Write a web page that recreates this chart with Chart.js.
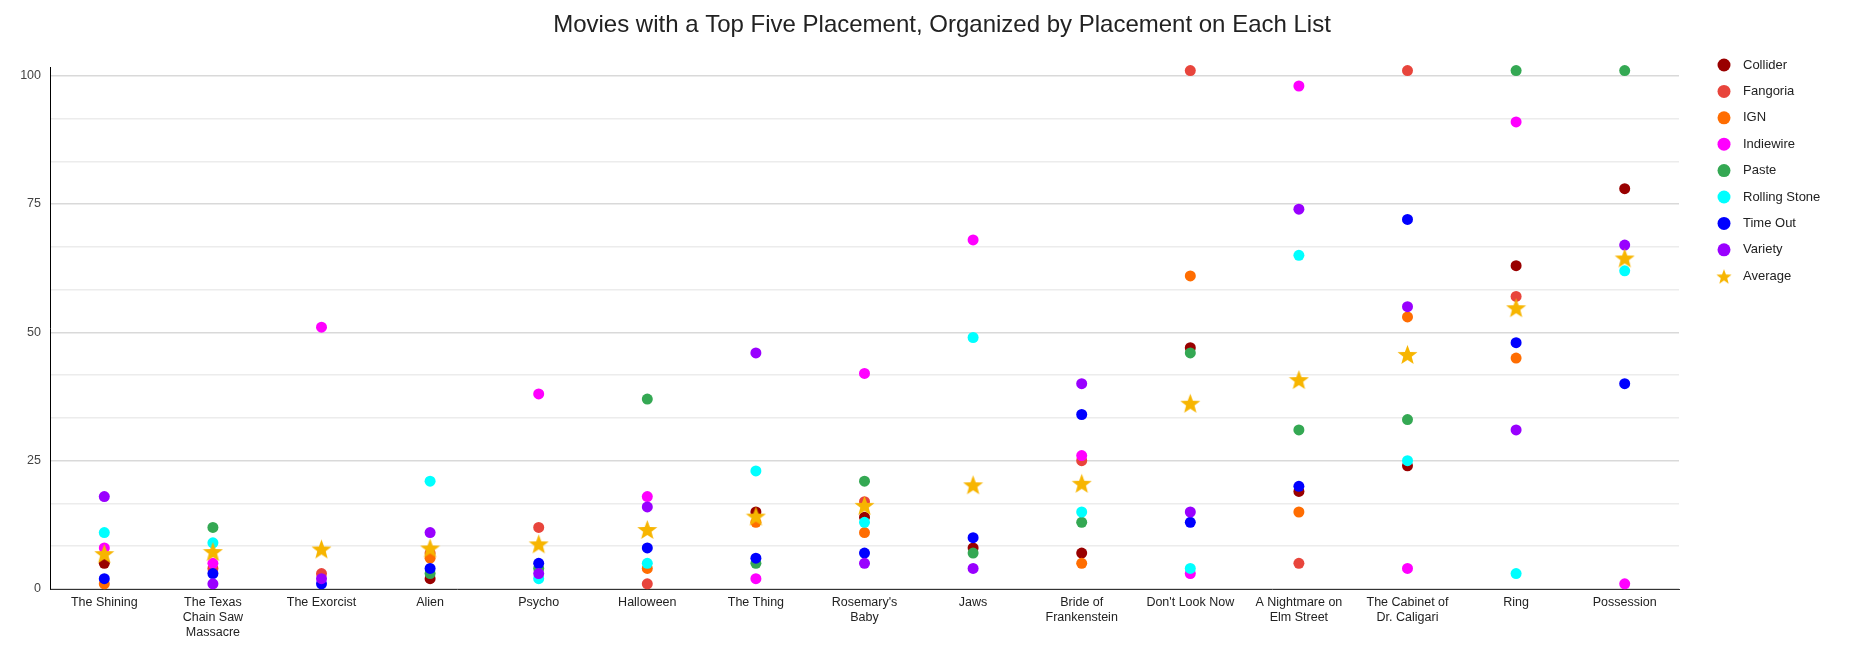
<!DOCTYPE html>
<html>
<head>
<meta charset="utf-8">
<script src="https://cdn.jsdelivr.net/npm/chart.js@4"></script>
<style>
    body { margin: 0; background: #fff; }
    #wrap { width: 1854px; height: 653px; position: relative; }
</style>
</head>
<body>
<div id="wrap"><canvas id="chart"></canvas></div>
<script>
/* =========================
   DATA
========================= */

const chartTitle = "Movies with a Top Five Placement, Organized by Placement on Each List";

const movies = [
    "The Shining", ["The Texas", "Chain Saw", "Massacre"], "The Exorcist", "Alien", "Psycho",
    "Halloween", "The Thing", ["Rosemary's", "Baby"], "Jaws", ["Bride of", "Frankenstein"],
    "Don't Look Now", ["A Nightmare on", "Elm Street"], ["The Cabinet of", "Dr. Caligari"], "Ring", "Possession"
];

const collider     = [5, null, null, 2, null, null, 15, 14, 8, 7, 47, 19, 24, 63, 78];
const fangoria     = [null, 4, 3, 7, 12, 1, null, 17, null, 25, 101, 5, 101, 57, null];
const ign          = [1, null, null, 6, null, 4, 13, 11, null, 5, 61, 15, 53, 45, null];
const indiewire    = [8, 5, 51, null, 38, 18, 2, 42, 68, 26, 3, 98, 4, 91, 1];
const paste        = [null, 12, null, 3, 4, 37, 5, 21, 7, 13, 46, 31, 33, 101, 101];
const rollingStone = [11, 9, null, 21, 2, 5, 23, 13, 49, 15, 4, 65, 25, 3, 62];
const timeOut      = [2, 3, 1, 4, 5, 8, 6, 7, 10, 34, 13, 20, 72, 48, 40];
const variety      = [18, 1, 2, 11, 3, 16, 46, 5, 4, 40, 15, 74, 55, 31, 67];
const average      = [6.9, 7.3, 7.8, 8, 8.8, 11.6, 14.2, 16.3, 20.3, 20.6, 36.2, 40.8, 45.7, 54.8, 64.5];

const yTickLabels = [0, 25, 50, 75, 100];

/* =========================
   STYLE
========================= */

const FONT = "Arial, 'Liberation Sans', sans-serif";
const STAR_COLOR = "#f7b500";

function makeStar(size, color) {
    let c = document.createElement("canvas");
    c.width = size; c.height = size;
    let ctx = c.getContext("2d");
    let cx = size / 2, cy = size / 2 + 1, R = size / 2, r = R * 0.42;
    ctx.beginPath();
    for (let i = 0; i < 10; i++) {
        let rad = i % 2 === 0 ? R : r;
        let a = -Math.PI / 2 + i * Math.PI / 5;
        ctx.lineTo(cx + rad * Math.cos(a), cy + rad * Math.sin(a));
    }
    ctx.closePath();
    ctx.fillStyle = color;
    ctx.fill();
    return c;
}

const starImg = makeStar(21, STAR_COLOR);
const legendStar = makeStar(16, STAR_COLOR);

const series = [
    { label: "Collider",      data: collider,     color: "#990000" },
    { label: "Fangoria",      data: fangoria,     color: "#e8453c" },
    { label: "IGN",           data: ign,          color: "#ff6d01" },
    { label: "Indiewire",     data: indiewire,    color: "#ff00ff" },
    { label: "Paste",         data: paste,        color: "#34a853" },
    { label: "Rolling Stone", data: rollingStone, color: "#00ffff" },
    { label: "Time Out",      data: timeOut,      color: "#0000ff" },
    { label: "Variety",       data: variety,      color: "#9900ff" },
    { label: "Average",       data: average,      color: STAR_COLOR, star: true }
];

const datasets = series.map((s, i) => ({
    label: s.label,
    data: s.data,
    showLine: false,
    clip: false,
    backgroundColor: s.color,
    borderColor: s.color,
    borderWidth: 0,
    pointRadius: s.star ? 10 : 5.5,
    pointHoverRadius: s.star ? 10 : 5.5,
    pointStyle: s.star ? starImg : "circle",
    order: series.length - 1 - i
}));

/* =========================
   TITLE + LEGEND (drawn to match layout)
========================= */

const titleAndLegend = {
    id: "titleAndLegend",
    afterDraw(chart) {
        let ctx = chart.ctx;
        ctx.save();

        ctx.font = "24px " + FONT;
        ctx.fillStyle = "#222";
        ctx.textAlign = "center";
        ctx.textBaseline = "middle";
        ctx.fillText(chartTitle, 942, 25);

        ctx.font = "13px " + FONT;
        ctx.textAlign = "left";
        series.forEach((s, i) => {
            let y = 65 + i * 26.4;
            if (s.star) {
                ctx.drawImage(legendStar, 1724 - 8, y - 8, 16, 16);
            } else {
                ctx.beginPath();
                ctx.arc(1724, y, 6.5, 0, Math.PI * 2);
                ctx.fillStyle = s.color;
                ctx.fill();
            }
            ctx.fillStyle = "#222";
            ctx.fillText(s.label, 1743, y);
        });
        ctx.restore();
    }
};

/* =========================
   CHART
========================= */

new Chart(document.getElementById("chart"), {
    type: "line",
    data: { labels: movies, datasets: datasets },
    options: {
        responsive: true,
        maintainAspectRatio: false,
        animation: false,
        layout: { padding: { left: 0, right: 0, top: 67, bottom: 0 } },
        plugins: {
            legend: { display: false },
            tooltip: { enabled: false },
            title: { display: false }
        },
        scales: {
            x: {
                offset: true,
                grid: { display: false, drawTicks: false },
                border: { display: true, color: "#333", width: 1 },
                ticks: {
                    color: "#222",
                    font: { family: FONT, size: 12.5 },
                    padding: 6,
                    maxRotation: 0,
                    autoSkip: false
                },
                afterFit: scale => { scale.height = 64; }
            },
            y: {
                min: 0,
                max: 101.7,
                afterBuildTicks: scale => {
                    let t = [];
                    for (let i = 0; i <= 12; i++) t.push({ value: i * 25 / 3 });
                    scale.ticks = t;
                },
                grid: {
                    drawTicks: false,
                    color: c => {
                        let v = Math.round(c.tick.value * 3);
                        return v % 75 === 0 ? "#d9d9d9" : "#ececec";
                    },
                    lineWidth: 1.5
                },
                border: { display: true, color: "#000", width: 1 },
                ticks: {
                    color: "#444",
                    font: { family: FONT, size: 12.5 },
                    padding: 9,
                    callback: v => {
                        let r = Math.round(v);
                        return yTickLabels.includes(r) && Math.abs(v - r) < 0.01 ? r : "";
                    }
                },
                afterFit: scale => { scale.width = 50; }
            },
            // empty right-hand axis keeps room for the legend column
            side: {
                type: "linear",
                position: "right",
                display: true,
                grid: { display: false, drawTicks: false },
                border: { display: false },
                ticks: { display: false },
                afterFit: scale => { scale.width = 175; }
            }
        }
    },
    plugins: [titleAndLegend]
});
</script>
</body>
</html>
